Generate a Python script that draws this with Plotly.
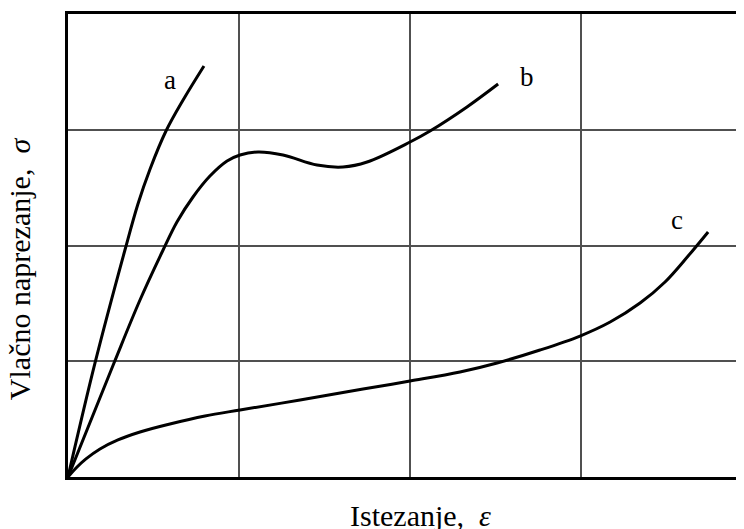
import plotly.graph_objects as go

# Curve data (strain and stress in grid units)
a_x = [0, 0.158, 0.333, 0.409, 0.480, 0.573, 0.673, 0.795]
a_y = [0, 0.985, 1.961, 2.359, 2.661, 2.989, 3.257, 3.551]

b_x = [0, 0.269, 0.421, 0.556, 0.637, 0.731, 0.830, 0.930, 1.006, 1.111, 1.257,
       1.456, 1.608, 1.749, 2.0, 2.117, 2.333, 2.515]
b_y = [0, 0.985, 1.529, 1.961, 2.203, 2.419, 2.600, 2.730, 2.782, 2.808, 2.782,
       2.695, 2.678, 2.721, 2.894, 2.989, 3.197, 3.395]

c_x = [0, 0.047, 0.105, 0.187, 0.292, 0.421, 0.596, 0.801, 1.006, 1.357, 1.725,
       2.0, 2.292, 2.509, 2.760, 2.994, 3.170, 3.345, 3.491, 3.626, 3.743]
c_y = [0, 0.078, 0.156, 0.242, 0.320, 0.389, 0.458, 0.527, 0.579, 0.665, 0.760,
       0.829, 0.907, 0.985, 1.097, 1.218, 1.339, 1.503, 1.685, 1.909, 2.117]

curve_labels = ["a", "b", "c"]
label_x = [0.596, 2.684, 3.561]
label_y = [3.430, 3.456, 2.220]

x_title = "Istezanje,  <i>ε</i>"
y_title = "Vlačno naprezanje,  <i>σ</i>"

FONT = "Liberation Serif, Times New Roman, serif"

fig = go.Figure()
for xs, ys in [(a_x, a_y), (b_x, b_y), (c_x, c_y)]:
    fig.add_trace(go.Scatter(x=xs, y=ys, mode="lines",
                             line=dict(color="black", width=3, shape="spline", smoothing=1.0),
                             showlegend=False, hoverinfo="skip"))

for t, lx, ly in zip(curve_labels, label_x, label_y):
    fig.add_annotation(x=lx, y=ly, text=t, showarrow=False, xref="x", yref="y",
                       xanchor="center", yanchor="middle",
                       font=dict(family=FONT, size=27, color="black"))

fig.add_annotation(x=0.527, y=-0.084, xref="paper", yref="paper", text=x_title,
                   xanchor="center", yanchor="middle",
                   showarrow=False, font=dict(family=FONT, size=30, color="black"))
fig.add_annotation(x=-0.0734, y=0.451, xref="paper", yref="paper", text=y_title,
                   xanchor="center", yanchor="middle",
                   textangle=-90, showarrow=False, font=dict(family=FONT, size=30, color="black"))

fig.update_xaxes(range=[0, 3.906], dtick=1, tick0=0, showticklabels=False, ticks="",
                 showgrid=True, gridcolor="#505050", gridwidth=2, zeroline=False,
                 showline=True, linecolor="black", linewidth=3, mirror=True)
fig.update_yaxes(range=[0, 4], dtick=1, tick0=0, showticklabels=False, ticks="",
                 showgrid=True, gridcolor="#505050", gridwidth=2, zeroline=False,
                 showline=True, linecolor="black", linewidth=3, mirror=False)

fig.update_layout(width=728, height=529, margin=dict(l=60, r=0, t=6, b=60),
                  paper_bgcolor="white", plot_bgcolor="white")

fig.write_html("out.html")
